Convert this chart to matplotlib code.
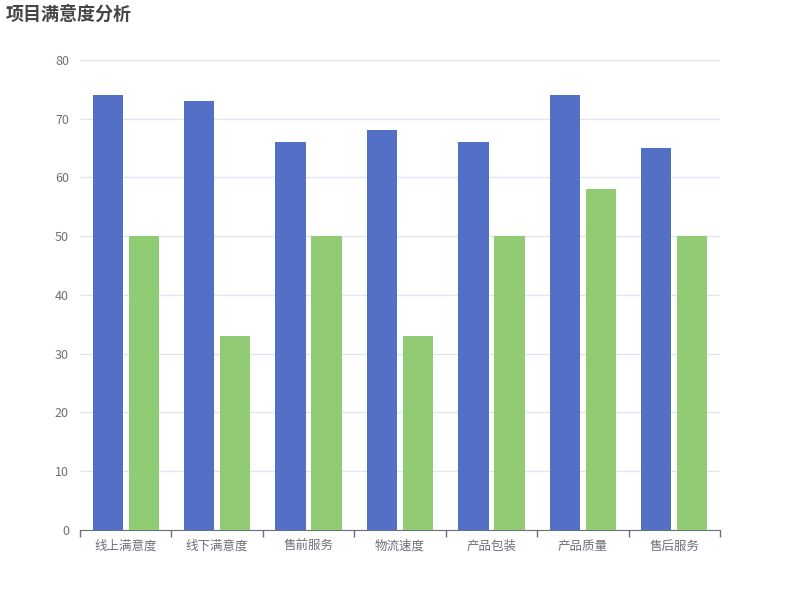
import matplotlib.pyplot as plt
import numpy as np

plt.rcParams['font.family'] = ['Noto Sans CJK SC', 'DejaVu Sans']

categories = ['线上满意度', '线下满意度', '售前服务', '物流速度', '产品包装', '产品质量', '售后服务']
blueValues = [74, 73, 66, 68, 66, 74, 65]
greenValues = [50, 33, 50, 33, 50, 58, 50]
yTicks = [0, 10, 20, 30, 40, 50, 60, 70, 80]

fig = plt.figure(figsize=(8, 6), dpi=100)
ax = fig.add_axes([0.1, 0.1167, 0.8, 0.7833])

x = np.arange(len(categories))
barWidth = 0.33
ax.bar(x - 0.197, blueValues, barWidth, color='#5470c6', zorder=3)
ax.bar(x + 0.197, greenValues, barWidth, color='#91cc75', zorder=3)

ax.set_xlim(-0.5, len(categories) - 0.5)
ax.set_ylim(0, 80)
ax.set_yticks(yTicks)
ax.yaxis.grid(True, color='#E0E6F1', linewidth=1, zorder=0)
ax.tick_params(axis='y', length=0, pad=8, labelsize=9, labelcolor='#6E7079')

# category ticks sit on the boundaries, labels in the middle
ax.set_xticks(np.arange(-0.5, len(categories)), minor=False)
ax.set_xticklabels([''] * (len(categories) + 1))
ax.set_xticks(x, minor=True)
ax.set_xticklabels(categories, minor=True)
ax.tick_params(axis='x', which='major', length=5, color='#6E7079', width=1)
ax.tick_params(axis='x', which='minor', length=0, pad=7, labelsize=9, labelcolor='#6E7079')

for side in ['top', 'right', 'left']:
    ax.spines[side].set_visible(False)
ax.spines['bottom'].set_color('#6E7079')

fig.text(0.0075, 0.977, '项目满意度分析', fontsize=13, fontweight='bold',
         color='#464646', va='center', ha='left')

fig.savefig('out.png', dpi=100)
